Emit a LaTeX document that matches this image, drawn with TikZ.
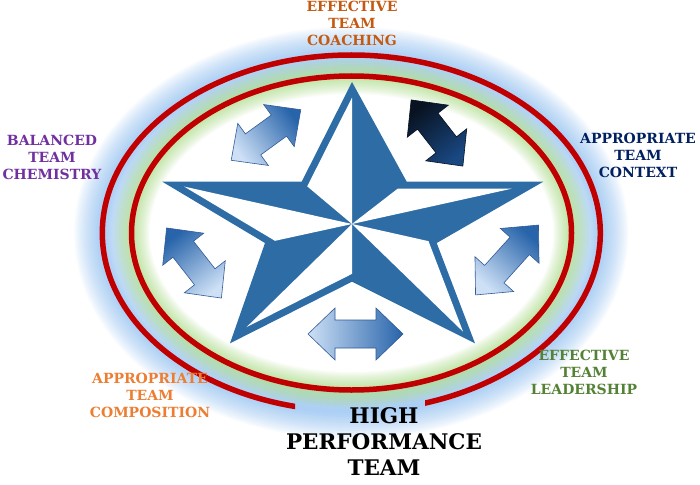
\documentclass[tikz,border=0pt]{standalone}
\usepackage{fontspec}
\setmainfont{DejaVu Serif}
\usetikzlibrary{calc}
\definecolor{starblue}{RGB}{46,108,165}
\definecolor{glowblue}{RGB}{110,175,245}
\definecolor{glowgreen}{RGB}{140,210,90}
\definecolor{ringred}{RGB}{192,0,0}
\definecolor{arlight}{RGB}{205,224,246}
\definecolor{ardark}{RGB}{40,100,170}
\definecolor{arline}{RGB}{50,90,150}
\definecolor{navyA}{RGB}{8,18,32}
\definecolor{navyB}{RGB}{100,155,215}
\definecolor{navyC}{RGB}{25,72,130}
\definecolor{cCoach}{RGB}{196,89,17}
\definecolor{cChem}{RGB}{112,48,160}
\definecolor{cCont}{RGB}{0,32,96}
\definecolor{cComp}{RGB}{237,125,49}
\definecolor{cLead}{RGB}{84,130,53}
\newcommand\dblarrow[8]{%
\begin{scope}[shift={(#2,#3)},rotate=#4]
\coordinate (#1a) at ({-#5/2},0);
\coordinate (#1b) at ({-#5/2+#6},#7);
\coordinate (#1c) at ({-#5/2+#6},#8);
\coordinate (#1d) at ({#5/2-#6},#8);
\coordinate (#1e) at ({#5/2-#6},#7);
\coordinate (#1f) at ({#5/2},0);
\coordinate (#1g) at ({#5/2-#6},-#7);
\coordinate (#1h) at ({#5/2-#6},-#8);
\coordinate (#1i) at ({-#5/2+#6},-#8);
\coordinate (#1j) at ({-#5/2+#6},-#7);
\end{scope}}
\newcommand\arrowpath[1]{(#1a)--(#1b)--(#1c)--(#1d)--(#1e)--(#1f)--(#1g)--(#1h)--(#1i)--(#1j)--cycle}
\tikzset{
  lbl/.style={align=center,inner sep=0pt,font=\bfseries\fontsize{14}{17}\selectfont},
  bluearrow/.style={draw=arline,line width=0.6pt,top color=ardark,bottom color=arlight},
  ring/.style={draw=ringred,line width=5.5pt}
}
\begin{document}
\begin{tikzpicture}[x=1pt,y=-1pt]
\useasboundingbox (0,0) rectangle (700,484);
\fill[white] (0,0) rectangle (700,484);
% outer blue glow
\foreach \w in {4,8,...,56}
  \draw[glowblue,line width=\w pt,opacity=0.055] (351.3,233) ellipse [x radius=249,y radius=178];
% inner area
\fill[white] (351.5,233) ellipse [x radius=220,y radius=157];
\foreach \w in {3,6,...,36}
  \draw[glowgreen,line width=\w pt,opacity=0.06] (351.5,233) ellipse [x radius=220,y radius=157];
% red rings (outer one hidden behind the title)
\begin{scope}
\clip (0,0) -- (700,0) -- (700,484) -- (425,484) -- (425,397) -- (295,397) -- (295,484) -- (0,484) -- cycle;
\draw[ring] (351.3,233) ellipse [x radius=249,y radius=178];
\end{scope}
\draw[ring] (351.5,233) ellipse [x radius=220,y radius=157];
% star
\coordinate (C) at (352,224);
\coordinate (T0) at (352,82);
\coordinate (V01) at (406.7,181.7);
\coordinate (T1) at (543.3,181.7);
\coordinate (V12) at (436.7,243);
\coordinate (T2) at (475,343.3);
\coordinate (V23) at (352,281.7);
\coordinate (T3) at (230,343.3);
\coordinate (V34) at (265,243);
\coordinate (T4) at (162.3,181.7);
\coordinate (V40) at (301.7,181.7);
\fill[starblue] (T0)--(V01)--(T1)--(V12)--(T2)--(V23)--(T3)--(V34)--(T4)--(V40)--cycle;
\fill[white] (C) -- ($(C)!0.89!(T0)$) -- ($(C)!0.89!(V40)$) -- cycle;
\fill[white] (C) -- ($(C)!0.835!(T1)$) -- ($(C)!0.835!(V01)$) -- cycle;
\fill[white] (C) -- ($(C)!0.903!(T2)$) -- ($(C)!0.903!(V12)$) -- cycle;
\fill[white] (C) -- ($(C)!0.864!(T3)$) -- ($(C)!0.864!(V23)$) -- cycle;
\fill[white] (C) -- ($(C)!0.885!(T4)$) -- ($(C)!0.885!(V34)$) -- cycle;
% arrows
\dblarrow{AUL}{266}{135}{36}{86}{27}{26}{13}
\path[bluearrow,shading angle=-54] \arrowpath{AUL};
\dblarrow{AUR}{437}{133}{128}{84}{27}{26}{13}
\path[draw=navyA,line width=0.6pt,top color=navyA,middle color=navyB,bottom color=navyC,shading angle=38] \arrowpath{AUR};
\dblarrow{AL}{194}{263}{128}{89}{27}{26}{13}
\path[bluearrow,shading angle=38] \arrowpath{AL};
\dblarrow{AR}{507}{260}{48}{94}{28}{26}{13}
\path[bluearrow,shading angle=-42] \arrowpath{AR};
\dblarrow{AB}{355.5}{334}{0}{95}{27}{26}{14}
\path[bluearrow,shading angle=-90] \arrowpath{AB};
% labels
\node[lbl,text=cCoach] (coach) at (352,23) {EFFECTIVE\\TEAM\\COACHING};
\node[lbl,text=cChem] (chem) at (52,157) {BALANCED\\TEAM\\CHEMISTRY};
\node[lbl,text=cCont] (cont) at (638,155) {APPROPRIATE\\TEAM\\CONTEXT};
\node[lbl,text=cComp] (comp) at (150,395) {APPROPRIATE\\TEAM\\COMPOSITION};
\node[lbl,text=cLead] (lead) at (584,372) {EFFECTIVE\\TEAM\\LEADERSHIP};
\node[align=center,inner sep=0pt,font=\bfseries\fontsize{21.5}{26}\selectfont] (hpt) at (384,442) {HIGH\\PERFORMANCE\\TEAM};
\end{tikzpicture}
\end{document}
